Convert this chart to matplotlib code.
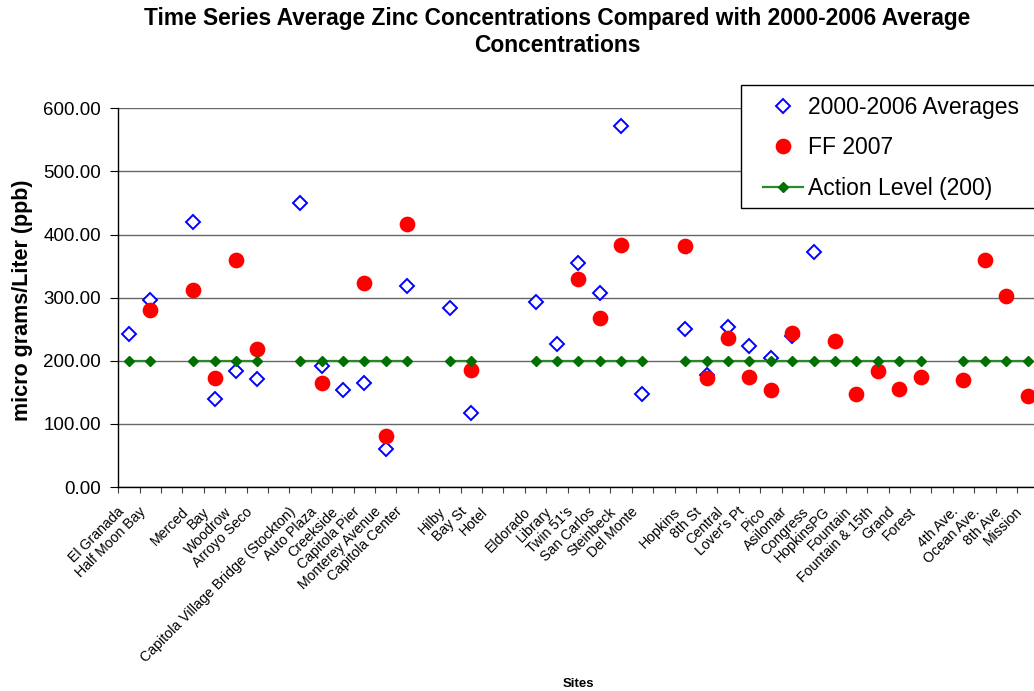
import matplotlib
matplotlib.use("Agg")
import matplotlib.pyplot as plt
import matplotlib.transforms as mtransforms
from matplotlib.patches import Rectangle
import numpy as np

plt.rcParams['font.family'] = ['Liberation Sans', 'DejaVu Sans']

# sites along the x axis ("" = empty category used as a gap)
sites = ["El Granada", "Half Moon Bay", "", "Merced", "Bay", "Woodrow", "Arroyo Seco", "",
         "Capitola Village Bridge (Stockton)", "Auto Plaza", "Creekside", "Capitola Pier",
         "Monterey Avenue", "Capitola Center", "", "Hilby", "Bay St", "Hotel", "",
         "Eldorado", "Library", "Twin 51's", "San Carlos", "Steinbeck", "Del Monte", "",
         "Hopkins", "8th St", "Central", "Lover's Pt", "Pico", "Asilomar", "Congress",
         "HopkinsPG", "Fountain", "Fountain & 15th", "Grand", "Forest", "",
         "4th Ave.", "Ocean Ave.", "8th Ave", "Mission"]

N = None
avg_2000_2006 = [242, 297, N, 420, 139, 183, 171, N,
                 450, 191, 154, 164, 60, 319, N, 283, 117, N, N,
                 293, 227, 355, 307, 572, 147, N,
                 250, 178, 254, 223, 205, 239, 373, N, N, N, N, N, N,
                 N, N, N, N]

ff_2007 = [N, 280, N, 312, 172, 359, 218, N,
           N, 165, N, 323, 81, 416, N, N, 185, N, N,
           N, N, 329, 268, 384, N, N,
           382, 173, 236, 175, 154, 244, N, 231, 147, 184, 156, 175, N,
           169, 360, 302, 144]

action_level = [200, 200, N, 200, 200, 200, 200, N,
                200, 200, 200, 200, 200, 200, N, 200, 200, N, N,
                200, 200, 200, 200, 200, 200, N,
                200, 200, 200, 200, 200, 200, 200, 200, 200, 200, 200, 200, N,
                200, 200, 200, 200]


def to_arr(vals):
    return np.array([np.nan if v is None else v for v in vals], dtype=float)


x = np.arange(len(sites)) + 0.5
W, H = 1034, 691

fig = plt.figure(figsize=(10.34, 6.91), dpi=100)
ax = fig.add_axes([118.3 / W, 1 - 487 / H, 920 / W, 378.7 / H])

ax.plot(x, to_arr(avg_2000_2006), linestyle='none', marker='D', markersize=7.0,
        markerfacecolor='white', markeredgecolor='#0000FF', markeredgewidth=1.4,
        label='2000-2006 Averages', zorder=3)
ax.plot(x, to_arr(ff_2007), linestyle='none', marker='o', markersize=10.3,
        markerfacecolor='#FF0000', markeredgecolor='#FF0000', label='FF 2007', zorder=4)
ax.plot(x, to_arr(action_level), color='#2A8A2A', linewidth=1.6, marker='D',
        markersize=4.6, markerfacecolor='#007000', markeredgecolor='#007000',
        label='Action Level (200)', zorder=5)

# Axes + ticks
ax.set_xlim(0, len(sites))
ax.set_ylim(0, 600)
yt = np.arange(0, 601, 100)
ax.set_yticks(yt)
ax.set_yticklabels([f"{v:.2f}" for v in yt], fontsize=13.5)
ax.yaxis.grid(True, color='#666666', linewidth=1)
ax.set_axisbelow(True)

ax.set_xticks(np.arange(len(sites) + 1))
ax.set_xticklabels([])
ax.set_xticks(x, minor=True)
ax.set_xticklabels(sites, minor=True, rotation=45, ha='right', va='top',
                   rotation_mode='anchor', fontsize=10.2)
ax.tick_params(axis='x', which='minor', length=0, pad=4)
ax.tick_params(axis='x', which='major', direction='out', length=4, color='#444444')
ax.tick_params(axis='y', which='major', direction='out', length=6, pad=6.5, color='black')

shift = mtransforms.ScaledTranslation(-12 / 100, -12 / 100, fig.dpi_scale_trans)
for lbl in ax.get_xticklabels(minor=True):
    lbl.set_transform(lbl.get_transform() + shift)

for side in ['top', 'right']:
    ax.spines[side].set_visible(False)
for side in ['left', 'bottom']:
    ax.spines[side].set_color('black')
    ax.spines[side].set_linewidth(1)

# Titles + labels
fig.text(557 / W, 1 - 19 / H,
         "Time Series Average Zinc Concentrations Compared with 2000-2006 Average",
         ha='center', va='center', fontsize=16.4, fontweight='bold')
fig.text(557 / W, 1 - 46 / H, "Concentrations",
         ha='center', va='center', fontsize=16.4, fontweight='bold')
fig.text(23 / W, 1 - 300 / H, "micro grams/Liter (ppb)", rotation=90,
         ha='center', va='center', fontsize=15.5, fontweight='bold')
fig.text(578 / W, 1 - 684 / H, "Sites", ha='center', va='center',
         fontsize=9.5, fontweight='bold')

# Legend box (runs past the right edge as in the original)
fig.patches.append(Rectangle((740.5 / W, 1 - 207.5 / H), 310 / W, 122.5 / H,
                             transform=fig.transFigure, facecolor='white',
                             edgecolor='black', linewidth=1, zorder=6))
leg = fig.legend(loc='upper left', bbox_to_anchor=(762.5 / W, 1 - 96 / H),
                 fontsize=16.5, frameon=False, borderpad=0, labelspacing=0.76,
                 handlelength=1.75, handletextpad=0.25, borderaxespad=0)
leg.set_zorder(7)

fig.savefig("out.png", dpi=100)
